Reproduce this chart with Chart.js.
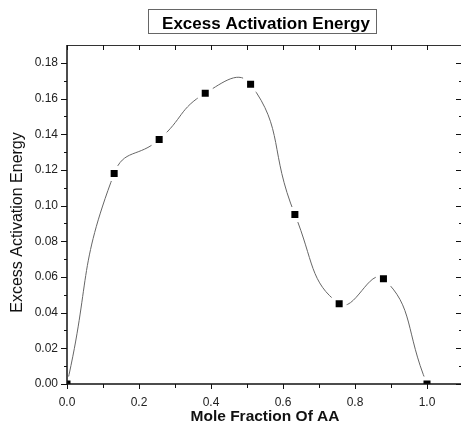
<!DOCTYPE html>
<html><head><meta charset="utf-8">
<script src="https://cdn.jsdelivr.net/npm/chart.js@4"></script>
<style>html,body{margin:0;padding:0;background:#fff;overflow:hidden;width:461px;height:435px}</style>
</head><body>
<canvas id="c" width="464" height="435" style="display:block;width:464px;height:435px"></canvas>
<script>
const chartTitle = 'Excess Activation Energy';
const xAxisTitle = 'Mole Fraction Of AA';
const yAxisTitle = 'Excess Activation Energy';
const moleFraction = [0, 0.131, 0.256, 0.384, 0.510, 0.633, 0.756, 0.879, 1.0];
const excessEnergy = [0, 0.118, 0.137, 0.163, 0.168, 0.095, 0.045, 0.059, 0];
const xTickValues = [0, 0.2, 0.4, 0.6, 0.8, 1.0];
const xMinorTickValues = [0.1, 0.3, 0.5, 0.7, 0.9];
const yTickValues = [0, 0.02, 0.04, 0.06, 0.08, 0.10, 0.12, 0.14, 0.16, 0.18];
const yMinorTickValues = [0.01, 0.03, 0.05, 0.07, 0.09, 0.11, 0.13, 0.15, 0.17];
const xRange = [0, 1.1];
const yRange = [0, 0.19];

const FONT = "'Liberation Sans', Arial, sans-serif";

const framePlugin = {
  id: 'frame',
  afterDatasetsDraw(chart) {
    const ctx = chart.ctx;
    const xs = chart.scales.x, ys = chart.scales.y;
    const a = chart.chartArea;
    ctx.save();
    ctx.strokeStyle = '#111';
    ctx.lineWidth = 1;
    const line = (x1, y1, x2, y2) => { ctx.beginPath(); ctx.moveTo(x1, y1); ctx.lineTo(x2, y2); ctx.stroke(); };
    // spines
    ctx.lineWidth = 1.5;
    line(a.left, a.top, a.left, a.bottom);
    line(a.left, a.bottom, a.right, a.bottom);
    ctx.lineWidth = 1;
    ctx.strokeStyle = '#333';
    line(a.left, a.top + 0.5, a.right, a.top + 0.5);
    line(a.right - 0.5, a.top, a.right - 0.5, a.bottom);
    ctx.strokeStyle = '#111';
    // left ticks (outward)
    yTickValues.forEach(v => { const y = Math.round(ys.getPixelForValue(v)) + 0.5; line(a.left - 6, y, a.left, y); });
    yMinorTickValues.forEach(v => { const y = Math.round(ys.getPixelForValue(v)) + 0.5; line(a.left - 3, y, a.left, y); });
    // right ticks (inward)
    yTickValues.forEach(v => { const y = Math.round(ys.getPixelForValue(v)) + 0.5; line(a.right - 7, y, a.right, y); });
    yMinorTickValues.forEach(v => { const y = Math.round(ys.getPixelForValue(v)) + 0.5; line(a.right - 4, y, a.right, y); });
    // bottom ticks (outward)
    xTickValues.forEach(v => { const x = Math.round(xs.getPixelForValue(v)) + 0.5; line(x, a.bottom, x, a.bottom + 5); });
    xMinorTickValues.forEach(v => { const x = Math.round(xs.getPixelForValue(v)) + 0.5; line(x, a.bottom, x, a.bottom + 4); });
    // top ticks (inward)
    xTickValues.concat(xMinorTickValues).forEach(v => { const x = Math.round(xs.getPixelForValue(v)) + 0.5; line(x, a.top, x, a.top + 5); });
    // title with box
    ctx.font = 'bold 17px ' + FONT;
    ctx.fillStyle = '#000';
    ctx.textAlign = 'center';
    ctx.textBaseline = 'alphabetic';
    const cx = (a.left + a.right) / 2 + 1;
    const tw = ctx.measureText(chartTitle).width;
    ctx.fillText(chartTitle, cx, 29);
    ctx.strokeStyle = '#666';
    ctx.lineWidth = 1;
    ctx.strokeRect(Math.round(cx - tw / 2 - 14) + 0.5, 9.5, Math.round(tw + 20), 24);
    // y axis title
    ctx.font = '16px ' + FONT;
    ctx.fillStyle = '#111';
    ctx.textBaseline = 'middle';
    ctx.translate(18, (a.top + a.bottom) / 2 + 8);
    ctx.rotate(-Math.PI / 2);
    ctx.fillText(yAxisTitle, 0, 0);
    ctx.restore();
  }
};

new Chart(document.getElementById('c'), {
  type: 'line',
  data: {
    datasets: [{
      data: moleFraction.map((x, i) => ({ x: x, y: excessEnergy[i] })),
      borderColor: '#666',
      borderWidth: 1,
      tension: 0.5,
      pointStyle: 'rect',
      pointRadius: 7.8,
      pointBackgroundColor: '#000',
      pointBorderColor: '#fff',
      pointBorderWidth: 4,
      clip: 0
    }]
  },
  options: {
    responsive: false,
    animation: false,
    events: [],
    layout: { autoPadding: false, padding: { top: 45, right: 1, left: 0, bottom: 0 } },
    plugins: { legend: { display: false }, tooltip: { enabled: false }, title: { display: false } },
    scales: {
      x: {
        type: 'linear', min: xRange[0], max: xRange[1],
        afterFit: s => { s.height = 51; },
        afterBuildTicks: s => { s.ticks = xTickValues.map(v => ({ value: v })); },
        grid: { display: false, drawTicks: false },
        border: { display: false },
        ticks: { padding: 11, color: '#222', font: { family: FONT, size: 12 }, maxRotation: 0, autoSkip: false,
                 callback: v => Number(v).toFixed(1) },
        title: { display: true, text: xAxisTitle, color: '#111', font: { family: FONT, size: 15.5, weight: 'bold' }, padding: { top: 0, bottom: 9 } }
      },
      y: {
        type: 'linear', min: yRange[0], max: yRange[1],
        afterFit: s => { s.width = 67; },
        afterBuildTicks: s => { s.ticks = yTickValues.map(v => ({ value: v })); },
        grid: { display: false, drawTicks: false },
        border: { display: false },
        ticks: { padding: 9, color: '#222', font: { family: FONT, size: 12 }, autoSkip: false,
                 callback: v => Number(v).toFixed(2) },
        title: { display: false }
      }
    }
  },
  plugins: [framePlugin]
});
</script>
</body></html>
